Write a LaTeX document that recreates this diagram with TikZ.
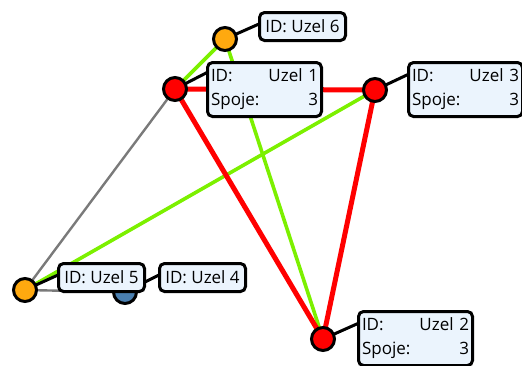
\documentclass[tikz,border=0pt]{standalone}
\usepackage{fontspec}
\setmainfont{Open Sans}
\usetikzlibrary{calc}
\definecolor{tagfill}{HTML}{EBF4FD}
\definecolor{linkgreen}{HTML}{7CF000}
\definecolor{linkred}{HTML}{FF0000}
\definecolor{linkgray}{HTML}{7A7A7A}
\definecolor{nodeorange}{HTML}{FFA90F}
\definecolor{nodeblue}{HTML}{4A7FB0}
\pgfdeclarelayer{links}
\pgfsetlayers{links,main}
\begin{document}
\begin{tikzpicture}[x=1pt,y=-1pt,
  vertex/.style={circle,draw=black,line width=3pt,minimum size=23pt,inner sep=0pt},
  redv/.style={vertex,fill=linkred},
  orangev/.style={vertex,fill=nodeorange},
  bluev/.style={vertex,fill=nodeblue},
  tag/.style={draw=black,line width=3pt,rounded corners=5pt,fill=tagfill,
    anchor=north west,inner xsep=3.5pt,inner ysep=0pt,
    font=\fontsize{17}{24}\selectfont},
  smalltag/.style={tag,minimum height=28pt,minimum width=86pt},
  bigtag/.style={tag,minimum height=54pt,text width=107pt},
  redlink/.style={linkred,line width=5pt},
  greenlink/.style={linkgreen,line width=3.6pt},
  graylink/.style={linkgray,line width=2.4pt},
  leader/.style={black,line width=3pt}
]
\useasboundingbox (0,0) rectangle (522,365);

% vertices
\node[orangev] (v6) at (225,39) {};
\node[redv]    (v1) at (175,89) {};
\node[redv]    (v3) at (375,90) {};
\node[redv]    (v2) at (323,339) {};
\node[bluev]   (v4) at (125,292) {};
\node[orangev] (v5) at (25,290) {};

% labels
\node[smalltag] (t6) at (258,11) {ID: Uzel 6};
\node[bigtag]   (t1) at (206,61) {ID:\hfill Uzel 1\\Spoje:\hfill 3};
\node[bigtag]   (t3) at (407,61) {ID:\hfill Uzel 3\\Spoje:\hfill 3};
\node[bigtag]   (t2) at (357,310) {ID:\hfill Uzel 2\\Spoje:\hfill 3};
\node[smalltag] (t4) at (158,262) {ID: Uzel 4};
\node[smalltag] (t5) at (57,262) {ID: Uzel 5};

% label anchor points
\coordinate (a6) at ($(t6.north west)+(1,13)$);
\coordinate (a1) at ($(t1.north west)+(2,11)$);
\coordinate (a3) at ($(t3.north west)+(2,13)$);
\coordinate (a2) at ($(t2.north west)+(2,13)$);
\coordinate (a4) at ($(t4.north west)+(1,13)$);
\coordinate (a5) at ($(t5.north west)+(1,13)$);

\begin{pgfonlayer}{links}
  % links between vertices
  \draw[graylink] (v5.center) -- (v4.center);
  \draw[graylink] (v5.center) -- (v1.center);
  \draw[greenlink] (v6.center) -- (v1.center);
  \draw[greenlink] (v6.center) -- (v2.center);
  \draw[greenlink] (v3.center) -- (v5.center);
  \draw[redlink] (v1.center) -- (v3.center);
  \draw[redlink] (v1.center) -- (v2.center);
  \draw[redlink] (v3.center) -- (v2.center);
  % leaders from vertices to their labels
  \draw[leader] (v6.center) -- (a6);
  \draw[leader] (v1.center) -- (a1);
  \draw[leader] (v3.center) -- (a3);
  \draw[leader] (v2.center) -- (a2);
  \draw[leader] (v4.center) -- (a4);
  \draw[leader] (v5.center) -- (a5);
\end{pgfonlayer}
\end{tikzpicture}
\end{document}
